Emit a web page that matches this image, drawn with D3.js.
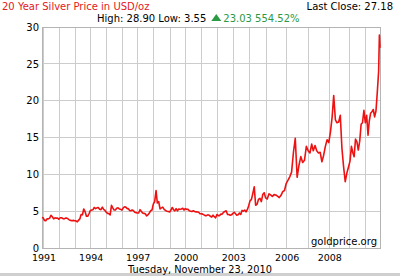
<!DOCTYPE html>
<meta charset="utf-8">
<style>
body{
    margin: 0;
    background: #fff;
}
svg text{
    font-family: "DejaVu Sans", Verdana, sans-serif;
}
</style>
<body>
    <div class="wrap"></div>
    <script src="https://d3js.org/d3.v7.min.js"></script>
    <script>
        // price on the 23rd of each month, Nov 1990 .. Oct 2010
        const prices = [
            4.15, 4.10,                                                          // 1990
            3.75, 3.70, 3.95, 3.95, 4.05, 4.45, 4.25, 3.95, 4.10, 4.05, 4.05, 3.90, // 1991
            4.10, 4.10, 4.00, 3.95, 4.05, 4.05, 3.95, 3.80, 3.75, 3.70, 3.75, 3.70, // 1992
            3.68, 3.55, 3.75, 3.95, 4.55, 4.50, 5.30, 4.95, 4.30, 4.30, 4.65, 5.10, // 1993
            5.15, 5.20, 5.50, 5.35, 5.45, 5.50, 5.25, 5.20, 5.55, 5.25, 5.10, 4.85, // 1994
            4.70, 4.65, 4.50, 5.80, 5.45, 5.15, 5.15, 5.40, 5.45, 5.30, 5.25, 5.15, // 1995
            5.45, 5.60, 5.55, 5.35, 5.35, 5.10, 5.05, 5.15, 5.05, 4.85, 4.80, 4.75, // 1996
            4.75, 5.20, 5.00, 4.75, 4.70, 4.65, 4.35, 4.50, 4.75, 5.05, 5.15, 5.95, // 1997
            6.30, 7.80, 6.10, 6.30, 5.30, 5.45, 5.55, 5.25, 5.10, 5.00, 4.95, 4.90, // 1998
            5.15, 5.50, 5.20, 5.05, 5.35, 5.05, 5.30, 5.25, 5.30, 5.40, 5.15, 5.35, // 1999
            5.25, 5.25, 5.05, 5.00, 4.95, 5.05, 4.95, 4.90, 4.90, 4.85, 4.65, 4.65, // 2000
            4.60, 4.50, 4.40, 4.40, 4.50, 4.45, 4.30, 4.20, 4.45, 4.25, 4.10, 4.55, // 2001
            4.40, 4.40, 4.60, 4.60, 4.85, 4.95, 5.05, 4.55, 4.55, 4.45, 4.50, 4.70, // 2002
            4.85, 4.65, 4.45, 4.50, 4.75, 4.55, 5.10, 5.00, 5.15, 4.90, 5.20, 5.70, // 2003
            6.40, 6.60, 7.40, 8.30, 5.80, 5.95, 6.60, 6.75, 6.30, 7.25, 7.50, 6.80, // 2004
            6.65, 7.35, 7.20, 7.00, 7.25, 7.20, 7.05, 6.85, 7.15, 7.65, 7.80, 8.75, // 2005
            9.20, 9.70, 10.30, 13.00, 14.90, 9.60, 11.20, 12.40, 11.60, 11.90, 13.80, 13.20, // 2006
            12.90, 14.10, 13.20, 13.90, 13.20, 12.90, 13.00, 11.70, 12.60, 13.80, 14.70, 14.30, // 2007
            15.80, 17.80, 20.70, 17.40, 17.00, 17.10, 18.00, 13.50, 11.00, 9.00, 10.20, 11.00, // 2008
            11.80, 13.80, 13.00, 12.40, 14.80, 14.40, 13.30, 14.50, 16.80, 17.00, 18.70, 17.00, // 2009
            18.00, 15.30, 17.20, 18.30, 18.50, 18.80, 17.80, 18.60, 21.20, 24.00              // 2010
        ];
        const lastDates = ["2010-11-09", "2010-11-23"];
        const lastPrices = [28.90, 27.18];

        const gridYears = d3.range(1991, 2011);
        const labelYears = [1991, 1994, 1997, 2000, 2003, 2006, 2008];
        const yTicks = [0, 5, 10, 15, 20, 25, 30];

        const title = "20 Year Silver Price in USD/oz";
        const lastClose = "27.18";
        const high = "28.90", low = "3.55";
        const change = "23.03", changePct = "554.52%";
        const dateLabel = "Tuesday, November 23, 2010";

        const width = 400, height = 276;
        const mLeft = 42, mRight = 380, mTop = 27, mBottom = 248;

        const parse = d3.timeParse("%Y-%m-%d");
        const start = parse("1990-11-23");
        const data = prices.map((v, i) => ({date: d3.timeMonth.offset(start, i), value: v}))
            .concat(lastDates.map((d, i) => ({date: parse(d), value: lastPrices[i]})));

        // the source plots by record count, so the years are not evenly spaced
        const yearEdges = [mLeft, 43.5, 59.3, 75, 90.7, 106.7, 122.3, 137.7, 153.7, 170, 185.7,
            201.7, 217.3, 233.3, 249, 266, 286.7, 308.7, 329.3, 349, 365.7, mRight];
        const x = d3.scaleTime()
            .domain([start].concat(gridYears.map(y => new Date(y, 0, 1)), [parse("2010-11-23")]))
            .range(yearEdges);
        const y = d3.scaleLinear().domain([0, 30]).range([mBottom, mTop]);

        const svg = d3.select(".wrap").append("svg")
            .attr("width", width)
            .attr("height", height)
            .style("display", "block");

        svg.append("rect").attr("width", width).attr("height", height).attr("fill", "#fff");
        svg.append("rect").attr("y", 273).attr("width", width).attr("height", 3).attr("fill", "#cfcfcf");

        const g = svg.append("g");
        g.selectAll(".vgrid")
            .data(gridYears)
            .join("line")
            .attr("x1", d => x(new Date(d, 0, 1)))
            .attr("x2", d => x(new Date(d, 0, 1)))
            .attr("y1", mTop).attr("y2", mBottom)
            .style("stroke", "#cccccc")
            .style("shape-rendering", "crispEdges");
        g.selectAll(".hgrid")
            .data(yTicks)
            .join("line")
            .attr("x1", mLeft).attr("x2", mRight)
            .attr("y1", d => y(d)).attr("y2", d => y(d))
            .style("stroke", "#cccccc")
            .style("shape-rendering", "crispEdges");
        g.append("rect")
            .attr("x", mLeft).attr("y", mTop)
            .attr("width", mRight - mLeft).attr("height", mBottom - mTop)
            .style("fill", "none")
            .style("stroke", "#b4b4b4")
            .style("shape-rendering", "crispEdges");

        const yAxis = svg.append("g")
            .attr("transform", `translate(${mLeft},0)`)
            .call(d3.axisLeft(y).tickValues(yTicks).tickSize(0).tickPadding(3));
        yAxis.select(".domain").remove();
        yAxis.selectAll("text").style("font-size", "10px").style("fill", "#000")
            .style("font-family", "DejaVu Sans");

        const xAxis = svg.append("g")
            .attr("transform", `translate(0,${mBottom})`)
            .call(d3.axisBottom(x).tickValues(labelYears.map(d => new Date(d, 0, 1)))
                .tickFormat(d3.timeFormat("%Y")).tickSize(0).tickPadding(6.5));
        xAxis.select(".domain").remove();
        xAxis.selectAll("text").style("font-size", "9.5px").style("fill", "#000")
            .style("font-family", "DejaVu Sans");

        const line = d3.line()
            .x(d => x(d.date))
            .y(d => y(d.value));
        svg.append("path")
            .datum(data)
            .attr("d", line)
            .style("fill", "none")
            .style("stroke", "#ee1111")
            .style("stroke-width", 1.6)
            .style("stroke-linejoin", "round");

        svg.append("text")
            .attr("x", 377).attr("y", 245)
            .attr("text-anchor", "end")
            .style("font-size", "10px")
            .text("goldprice.org");

        svg.append("text")
            .attr("x", 200).attr("y", 272.5)
            .attr("text-anchor", "middle")
            .style("font-size", "9.8px")
            .text(dateLabel);

        svg.append("text")
            .attr("x", 2).attr("y", 10)
            .style("font-size", "10px")
            .style("fill", "#e3201b")
            .text(title);
        svg.append("text")
            .attr("x", 393).attr("y", 10)
            .attr("text-anchor", "end")
            .style("font-size", "10px")
            .text("Last Close: " + lastClose);

        const stats = svg.append("text")
            .attr("x", 97).attr("y", 21.5)
            .style("font-size", "10px")
            .text(`High: ${high} Low: ${low}`);
        const w = stats.node().getComputedTextLength();
        const tx = 97 + w + 5;
        svg.append("path")
            .attr("d", `M${tx},21 L${tx + 10},21 L${tx + 5},14 Z`)
            .style("fill", "#2a9a45");
        svg.append("text")
            .attr("x", tx + 12).attr("y", 21.5)
            .style("font-size", "10px")
            .style("fill", "#2a9a45")
            .text(`${change} ${changePct}`);
    </script>
</body>
</html>
